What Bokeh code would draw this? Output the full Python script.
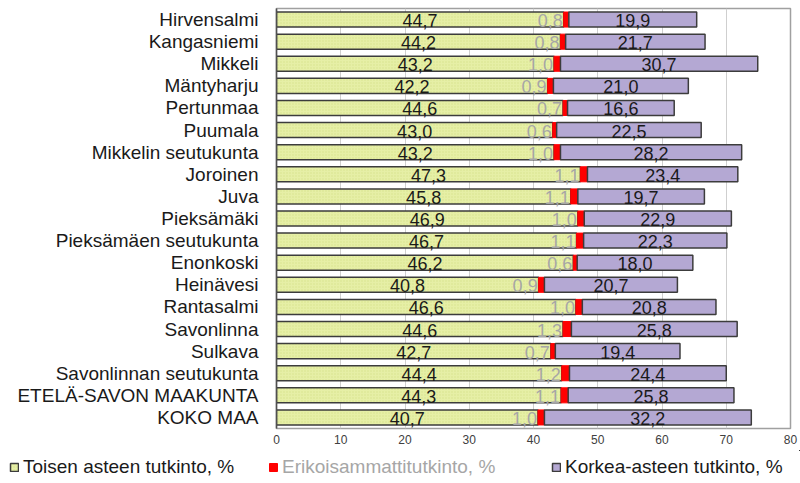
from bokeh.plotting import figure
from bokeh.models import ColumnDataSource, FactorRange, Range1d, Legend, LegendItem, FixedTicker
from bokeh.core.properties import value
from bokeh.embed import file_html
from bokeh.resources import INLINE

categories = ["Hirvensalmi", "Kangasniemi", "Mikkeli", "Mäntyharju", "Pertunmaa", "Puumala",
              "Mikkelin seutukunta", "Joroinen", "Juva", "Pieksämäki", "Pieksämäen seutukunta",
              "Enonkoski", "Heinävesi", "Rantasalmi", "Savonlinna", "Sulkava",
              "Savonlinnan seutukunta", "ETELÄ-SAVON MAAKUNTA", "KOKO MAA"]
toisen = [44.7, 44.2, 43.2, 42.2, 44.6, 43.0, 43.2, 47.3, 45.8, 46.9, 46.7, 46.2, 40.8, 46.6, 44.6, 42.7, 44.4, 44.3, 40.7]
erikois = [0.8, 0.8, 1.0, 0.9, 0.7, 0.6, 1.0, 1.1, 1.1, 1.0, 1.1, 0.6, 0.9, 1.0, 1.3, 0.7, 1.2, 1.1, 1.0]
korkea = [19.9, 21.7, 30.7, 21.0, 16.6, 22.5, 28.2, 23.4, 19.7, 22.9, 22.3, 18.0, 20.7, 20.8, 25.8, 19.4, 24.4, 25.8, 32.2]
series_names = ["Toisen asteen tutkinto, %", "Erikoisammattitutkinto, %", "Korkea-asteen tutkinto, %"]
x_ticks = [0, 10, 20, 30, 40, 50, 60, 70, 80]

def fmt(v):
    return ("%.1f" % v).replace(".", ",")

s1 = [a + b for a, b in zip(toisen, erikois)]
s2 = [a + b for a, b in zip(s1, korkea)]
src = ColumnDataSource(dict(
    cat=categories, t=toisen, e=erikois, k=korkea,
    z=[0] * len(categories), s1=s1, s2=s2,
    tmid=[v / 2 for v in toisen],
    kmid=[a + b / 2 for a, b in zip(s1, korkea)],
    tl=[fmt(v) for v in toisen], el=[fmt(v) for v in erikois], kl=[fmt(v) for v in korkea],
))

p = figure(width=800, height=450, output_backend="svg", toolbar_location=None,
           y_range=FactorRange(*reversed(categories)), x_range=Range1d(0, 80),
           min_border_left=276, min_border_right=10, min_border_top=8, min_border_bottom=22)

edge = "#3c3c3c"
yellow = dict(fill_color="#e6efa6", line_color=edge, line_width=1.5, hatch_pattern="dot",
              hatch_color="#c9d77a", hatch_scale=3, hatch_alpha=0.6)
red = dict(fill_color="#ff0000", line_color="#ff0000", line_width=1)
purple = dict(fill_color="#b4a8d3", line_color=edge, line_width=1.5)

r1 = p.hbar(y="cat", left="z", right="t", height=0.68, source=src, **yellow)
r2 = p.hbar(y="cat", left="t", right="s1", height=0.68, source=src, **red)
r3 = p.hbar(y="cat", left="s1", right="s2", height=0.68, source=src, **purple)

font = value("Liberation Sans")
p.text(x="tmid", y="cat", text="tl", source=src, text_align="center", text_baseline="middle",
       text_font=font, text_font_size="18px", text_color="#1a1a1a", y_offset=1)
p.text(x="t", y="cat", text="el", source=src, text_align="right", text_baseline="middle",
       text_font=font, text_font_size="18px", text_color="#a6a6a6", x_offset=-1, y_offset=1)
p.text(x="kmid", y="cat", text="kl", source=src, text_align="center", text_baseline="middle",
       text_font=font, text_font_size="18px", text_color="#1a1a1a", y_offset=1)

p.xgrid.ticker = FixedTicker(ticks=x_ticks)
p.xaxis.ticker = FixedTicker(ticks=x_ticks)
p.xgrid.grid_line_color = "#cfcfcf"
p.ygrid.grid_line_color = None
p.outline_line_color = "#a0a0a0"
p.outline_line_width = 1.5

p.xaxis.axis_line_color = None
p.xaxis.major_tick_line_color = None
p.xaxis.minor_tick_line_color = None
p.xaxis.major_label_text_font = "Liberation Sans"
p.xaxis.major_label_text_font_size = "12px"
p.xaxis.major_label_text_color = "#404040"
p.xaxis.major_label_standoff = 0

p.yaxis.axis_line_color = "#505050"
p.yaxis.axis_line_width = 1.5
p.yaxis.major_tick_line_color = None
p.yaxis.minor_tick_line_color = None
p.yaxis.major_label_text_font = "Liberation Sans"
p.yaxis.major_label_text_font_size = "19px"
p.yaxis.major_label_text_color = "#1a1a1a"
p.yaxis.major_label_standoff = 12

# legend strip (its bars lie far outside its ranges, so only the legend shows)
q = figure(width=800, height=33, output_backend="svg", toolbar_location=None,
           x_range=Range1d(-2, -1), y_range=Range1d(-2, -1), x_axis_type=None, y_axis_type=None,
           min_border=0)
q.outline_line_color = None
q.xgrid.grid_line_color = None
q.ygrid.grid_line_color = None
k1 = q.hbar(y="t", left="t", right="s1", height=0.5, source=src, **yellow)
k2 = q.hbar(y="t", left="t", right="s1", height=0.5, source=src, **red)
k3 = q.hbar(y="t", left="t", right="s1", height=0.5, source=src, **purple)

for rend, name, xoff, col in [(k1, series_names[0], 9, "#1a1a1a"),
                              (k2, series_names[1], 268, "#a6a6a6"),
                              (k3, series_names[2], 551, "#1a1a1a")]:
    lg = Legend(items=[LegendItem(label=name, renderers=[rend])], location=(xoff, 5),
                orientation="horizontal", background_fill_alpha=0, border_line_color=None,
                padding=0, margin=0, spacing=0, glyph_width=10, glyph_height=10,
                label_standoff=4, label_height=18,
                label_text_font="Liberation Sans", label_text_font_size="19px",
                label_text_color=col)
    q.add_layout(lg)

open("out.html", "w").write(file_html([p, q], INLINE))
